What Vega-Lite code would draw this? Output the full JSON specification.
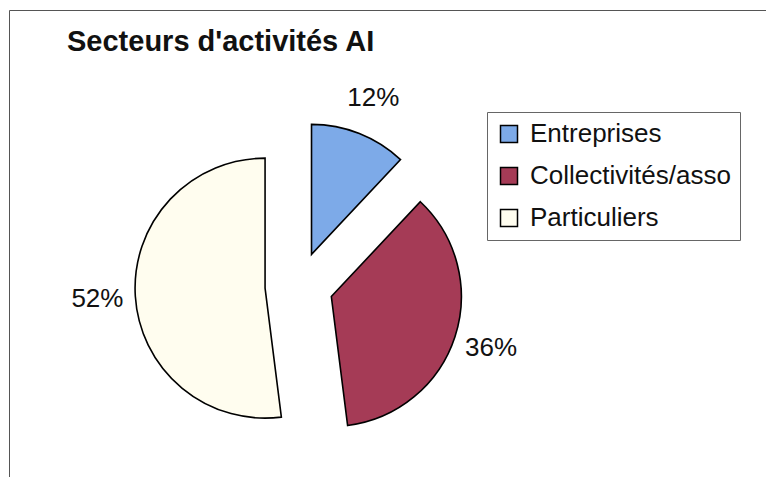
{
  "$schema": "https://vega.github.io/schema/vega-lite/v6.json",
  "autosize": {"type": "none"},
  "width": 757,
  "height": 467,
  "padding": {"left": 9, "top": 10, "right": 0, "bottom": 0},
  "background": "#ffffff",
  "title": {
    "text": "Secteurs d'activités AI",
    "anchor": "start",
    "frame": "group",
    "orient": "top",
    "offset": -70,
    "baseline": "alphabetic",
    "dx": 58,
    "font": "Liberation Sans",
    "fontSize": 29,
    "fontWeight": "bold",
    "color": "#111111"
  },
  "data": {
    "values": [
      {"sector": "Entreprises", "pct": 0.12, "order": 1},
      {"sector": "Collectivités/asso", "pct": 0.36, "order": 2},
      {"sector": "Particuliers", "pct": 0.52, "order": 3}
    ]
  },
  "layer": [
    {
      "mark": {"type": "arc", "outerRadius": 130, "stroke": "#000000", "strokeWidth": 1.6, "strokeJoin": "miter"},
      "encoding": {
        "theta": {"field": "pct", "type": "quantitative", "stack": true},
        "order": {"field": "order", "type": "quantitative"},
        "x": {"value": {"expr": "290 + 34*sin(PI*(datum.pct_start+datum.pct_end))"}},
        "y": {"value": {"expr": "276 - 34*cos(PI*(datum.pct_start+datum.pct_end))"}},
        "color": {
          "field": "sector",
          "type": "nominal",
          "scale": {
            "domain": ["Entreprises", "Collectivités/asso", "Particuliers"],
            "range": ["#7DAAE8", "#A53B56", "#FFFDEF"]
          },
          "legend": {
            "title": null,
            "orient": "none",
            "legendX": 478,
            "legendY": 102,
            "symbolType": "square",
            "symbolSize": 289,
            "symbolStrokeColor": "#000000",
            "symbolStrokeWidth": 1.5,
            "labelFont": "Liberation Sans",
            "labelFontSize": 26,
            "labelColor": "#111111",
            "labelOffset": 8,
            "rowPadding": 16,
            "padding": 9,
            "strokeColor": "#666666",
            "labelLimit": 400
          }
        }
      }
    },
    {
      "mark": {"type": "text", "radius": 168, "font": "Liberation Sans", "fontSize": 26, "color": "#111111", "align": "center", "baseline": "middle"},
      "encoding": {
        "theta": {"field": "pct", "type": "quantitative", "stack": true},
        "order": {"field": "order", "type": "quantitative"},
        "x": {"value": {"expr": "290 + 34*sin(PI*(datum.pct_start+datum.pct_end))"}},
        "y": {"value": {"expr": "276 - 34*cos(PI*(datum.pct_start+datum.pct_end))"}},
        "text": {"field": "pct", "type": "quantitative", "format": ".0%"}
      }
    }
  ],
  "config": {
    "view": {"stroke": "#555555", "strokeWidth": 1}
  }
}
